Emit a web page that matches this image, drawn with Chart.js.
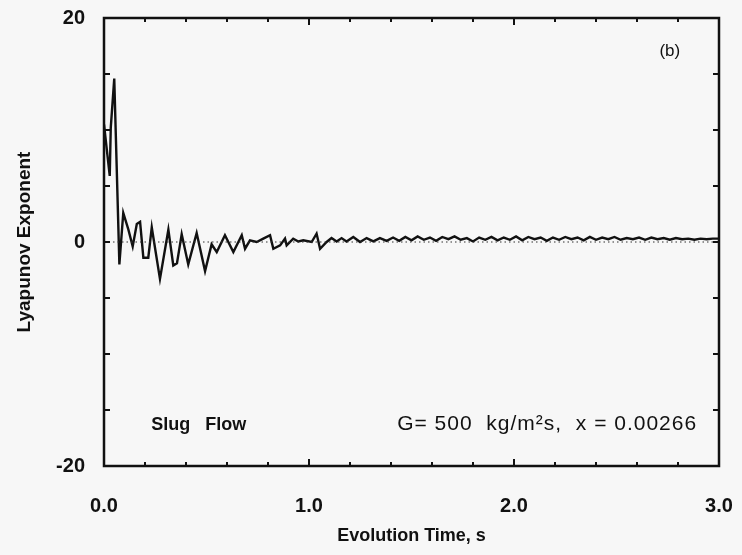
<!DOCTYPE html>
<html>
<head>
<meta charset="utf-8">
<script src="https://cdn.jsdelivr.net/npm/chart.js@4/dist/chart.umd.min.js"></script>
<style>
  html, body { margin: 0; padding: 0; background: #f7f7f7; }
  #wrap { width: 742px; height: 555px; }
</style>
</head>
<body>
<div id="wrap"><canvas id="chart" width="742" height="555"></canvas></div>
<script>
// ── Data: Lyapunov exponent vs evolution time ──
const timeValues = [
  0.000, 0.028, 0.033, 0.050, 0.075, 0.094, 0.119, 0.140, 0.160, 0.176,
  0.192, 0.216, 0.233, 0.273, 0.314, 0.338, 0.356, 0.379, 0.411, 0.452,
  0.493, 0.525, 0.550, 0.590, 0.631, 0.672, 0.688, 0.712, 0.745, 0.777,
  0.810, 0.826, 0.859, 0.883, 0.891, 0.923, 0.948, 0.972, 1.013, 1.037,
  1.054, 1.086, 1.110, 1.135, 1.159, 1.183, 1.216, 1.249, 1.281, 1.314,
  1.346, 1.379, 1.410, 1.440, 1.470, 1.500, 1.530, 1.560, 1.590, 1.620,
  1.650, 1.680, 1.710, 1.740, 1.770, 1.800, 1.830, 1.860, 1.890, 1.920,
  1.950, 1.980, 2.010, 2.040, 2.070, 2.100, 2.130, 2.160, 2.190, 2.220,
  2.250, 2.280, 2.310, 2.340, 2.370, 2.400, 2.430, 2.460, 2.490, 2.520,
  2.550, 2.580, 2.610, 2.640, 2.670, 2.700, 2.730, 2.760, 2.790, 2.820,
  2.850, 2.880, 2.910, 2.940, 2.970, 3.000
];
const exponentValues = [
  10.5, 5.9, 10.2, 14.6, -2.0, 2.6, 1.1, -0.4, 1.6, 1.8,
  -1.4, -1.4, 1.3, -3.3, 1.1, -2.1, -1.9, 0.7, -2.0, 0.8,
  -2.6, -0.2, -0.9, 0.6, -0.9, 0.6, -0.6, 0.15, 0.0, 0.3,
  0.6, -0.6, -0.3, 0.3, -0.3, 0.3, 0.05, 0.15, 0.0, 0.75,
  -0.6, 0.0, 0.35, 0.05, 0.35, 0.05, 0.45, 0.0, 0.35, 0.05,
  0.35, 0.1, 0.4, 0.1, 0.45, 0.15, 0.5, 0.2, 0.4, 0.1,
  0.45, 0.25, 0.5, 0.2, 0.35, 0.05, 0.4, 0.2, 0.45, 0.15,
  0.4, 0.2, 0.5, 0.15, 0.45, 0.25, 0.4, 0.1, 0.4, 0.2,
  0.45, 0.25, 0.4, 0.15, 0.45, 0.2, 0.4, 0.25, 0.45, 0.2,
  0.35, 0.25, 0.4, 0.2, 0.4, 0.25, 0.35, 0.2, 0.35, 0.25,
  0.3, 0.2, 0.3, 0.25, 0.3, 0.3
];
const xTickLabels = ['0.0', '1.0', '2.0', '3.0'];
const yTickLabels = ['-20', '0', '20'];

// text placed in data coordinates
const notes = [
  { text: '(b)', t: 2.76, v: 17.0, font: '17px "Liberation Sans"', align: 'center', spacing: '0px' },
  { text: 'Slug   Flow', t: 0.23, v: -16.3, font: 'bold 18px "Liberation Sans"', align: 'left', spacing: '0px' },
  { text: 'G= 500  kg/m\u00B2s,  x = 0.00266', t: 1.43, v: -16.3, font: '21px "Liberation Sans"', align: 'left', spacing: '1px' }
];

const INK = '#111';
const FONT = '"Liberation Sans", Arial, sans-serif';
const isWhole = v => Math.abs(v - Math.round(v)) < 1e-6;

// ── Frame, inward ticks, dotted zero line and notes ──
const framePlugin = {
  id: 'frame',
  beforeDraw(chart) {
    const { ctx, width, height } = chart;
    ctx.save();
    ctx.fillStyle = '#f7f7f7';
    ctx.fillRect(0, 0, width, height);
    ctx.restore();
  },
  afterDatasetsDraw(chart) {
    const { ctx, chartArea: a, scales: { x, y } } = chart;
    ctx.save();
    // dotted zero line
    const y0 = y.getPixelForValue(0);
    ctx.strokeStyle = '#333';
    ctx.lineWidth = 1.2;
    ctx.setLineDash([1.5, 3]);
    ctx.beginPath();
    ctx.moveTo(a.left, y0);
    ctx.lineTo(a.right, y0);
    ctx.stroke();
    ctx.setLineDash([]);

    // frame
    ctx.strokeStyle = INK;
    ctx.lineWidth = 2.5;
    ctx.strokeRect(a.left, a.top, a.right - a.left, a.bottom - a.top);

    // inward ticks
    ctx.lineWidth = 2;
    ctx.beginPath();
    x.ticks.forEach(tk => {
      const px = x.getPixelForValue(tk.value);
      const len = isWhole(tk.value) ? 7 : 4;
      ctx.moveTo(px, a.bottom); ctx.lineTo(px, a.bottom - len);
      ctx.moveTo(px, a.top); ctx.lineTo(px, a.top + len);
    });
    y.ticks.forEach(tk => {
      const py = y.getPixelForValue(tk.value);
      const len = 6;
      ctx.moveTo(a.left, py); ctx.lineTo(a.left + len, py);
      ctx.moveTo(a.right, py); ctx.lineTo(a.right - len, py);
    });
    ctx.stroke();

    // notes
    ctx.fillStyle = INK;
    ctx.textBaseline = 'middle';
    notes.forEach(n => {
      ctx.font = n.font;
      ctx.letterSpacing = n.spacing;
      ctx.textAlign = n.align;
      ctx.fillText(n.text, x.getPixelForValue(n.t), y.getPixelForValue(n.v));
    });
    ctx.restore();
  }
};

new Chart(document.getElementById('chart'), {
  type: 'line',
  data: {
    datasets: [{
      data: timeValues.map((t, i) => ({ x: t, y: exponentValues[i] })),
      borderColor: INK,
      borderWidth: 2.4,
      pointRadius: 0,
      tension: 0,
      fill: false
    }]
  },
  options: {
    responsive: false,
    animation: false,
    events: [],
    layout: { padding: { left: 0, top: 18, right: 23, bottom: 0 } },
    plugins: { legend: { display: false }, tooltip: { enabled: false } },
    scales: {
      x: {
        type: 'linear',
        min: 0, max: 3,
        grid: { display: false, drawTicks: false },
        border: { display: false },
        ticks: {
          stepSize: 0.2,
          autoSkip: false,
          maxRotation: 0,
          padding: 28,
          color: INK,
          font: { family: FONT, size: 20, weight: 'bold' },
          callback: v => isWhole(v) ? xTickLabels[Math.round(v)] : ''
        },
        title: {
          display: true,
          text: 'Evolution Time, s',
          color: INK,
          font: { family: FONT, size: 18, weight: 'bold' },
          padding: { top: 0, bottom: 8 }
        },
        afterFit: s => {
          s.height = 89;
          s.paddingLeft = 0; s.paddingRight = 0;
        }
      },
      y: {
        min: -20, max: 20,
        grid: { display: false, drawTicks: false },
        border: { display: false },
        ticks: {
          stepSize: 5,
          autoSkip: false,
          padding: 19,
          crossAlign: 'near',
          color: INK,
          font: { family: FONT, size: 20, weight: 'bold' },
          callback: v => v % 20 === 0 ? yTickLabels[v / 20 + 1] : ''
        },
        title: {
          display: true,
          text: 'Lyapunov Exponent',
          color: INK,
          font: { family: FONT, size: 19, weight: 'bold' },
          padding: { top: 13, bottom: 0 }
        },
        afterFit: s => {
          s.width = 104;
          s.paddingTop = 0; s.paddingBottom = 0;
        }
      }
    }
  },
  plugins: [framePlugin]
});
</script>
</body>
</html>
